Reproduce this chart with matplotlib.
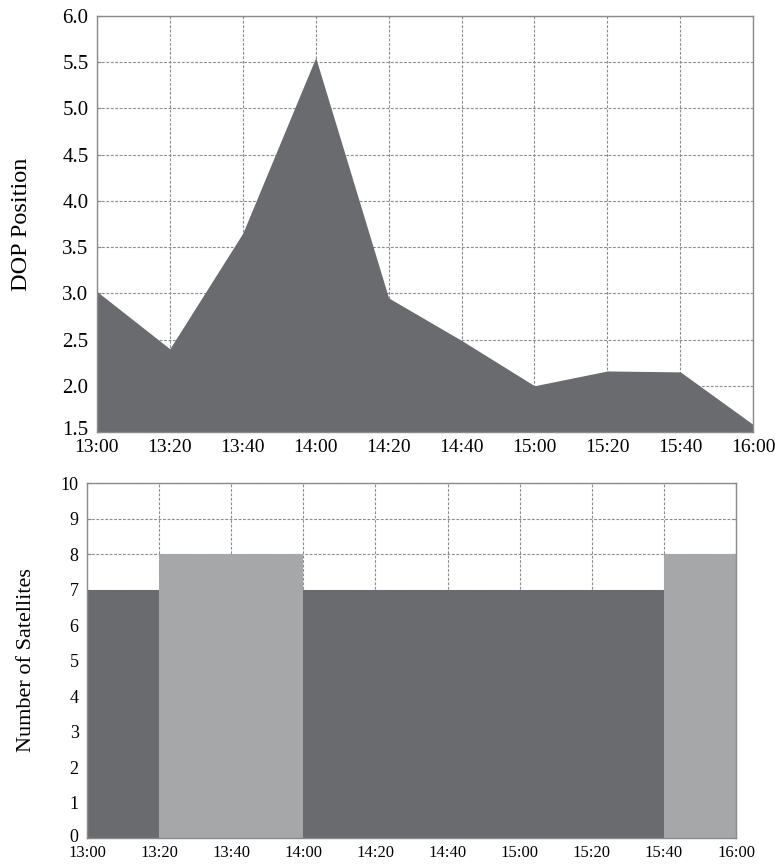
import matplotlib
matplotlib.use("Agg")
import matplotlib.pyplot as plt
import matplotlib.transforms as mtransforms
import numpy as np

# Data
minutes = [0, 20, 40, 60, 80, 100, 120, 140, 160, 180]
time_labels = ["13:00", "13:20", "13:40", "14:00", "14:20", "14:40", "15:00", "15:20", "15:40", "16:00"]
dop_position = [3.02, 2.40, 3.65, 5.55, 2.95, 2.49, 2.00, 2.16, 2.15, 1.58]

bin_starts = [0, 20, 40, 60, 80, 100, 120, 140, 160]
num_satellites = [7, 8, 8, 7, 7, 7, 7, 7, 8]

dark = "#6a6b6e"
light = "#a6a7a9"
spine_c = "#8a8a8a"
grid_c = "#8c8c8c"

plt.rcParams['font.family'] = ['Liberation Serif', 'DejaVu Serif']

fig = plt.figure(figsize=(7.75, 8.65), dpi=100)

# Top axes
ax1 = fig.add_axes([0.125, 0.5006, 0.847, 0.481])
ax1.fill_between(minutes, 1.5, dop_position, color=dark, linewidth=0, zorder=2)
ax1.set_xlim(0, 180)
ax1.set_ylim(1.5, 6.0)
ax1.set_xticks(minutes)
ax1.set_xticklabels(time_labels)
ax1.set_yticks(np.arange(1.5, 6.01, 0.5))
ax1.set_yticklabels([f"{v:.1f}" for v in np.arange(1.5, 6.01, 0.5)])
ax1.set_axisbelow(True)
ax1.grid(True, color=grid_c, linestyle=(0, (2.5, 1.5)), linewidth=0.8)
ax1.tick_params(direction='in', length=3, color=spine_c)
ax1.tick_params(axis='x', pad=5, labelsize=14)
ax1.tick_params(axis='y', pad=6, labelsize=15)
ax1.set_ylabel("DOP Position", fontsize=17.5, labelpad=22)
for s in ax1.spines.values():
    s.set_color(spine_c)
    s.set_linewidth(1.0)
# lift the lowest y label slightly, as in the reference
lbl = ax1.get_yticklabels()[0]
lbl.set_transform(lbl.get_transform() + mtransforms.ScaledTranslation(0, 4/100, fig.dpi_scale_trans))

# Bottom axes
ax2 = fig.add_axes([0.1123, 0.0312, 0.8374, 0.4104])
cols = [light if v == 8 else dark for v in num_satellites]
ax2.bar(bin_starts, num_satellites, width=20, align='edge', color=cols, linewidth=0, zorder=2)
ax2.set_xlim(0, 180)
ax2.set_ylim(0, 10)
ax2.set_xticks(minutes)
ax2.set_xticklabels(time_labels)
ax2.set_yticks(range(0, 11))
ax2.set_axisbelow(True)
ax2.grid(True, color=grid_c, linestyle=(0, (2.5, 1.5)), linewidth=0.8)
ax2.tick_params(direction='in', length=3, color=spine_c, right=True, top=False)
ax2.tick_params(axis='x', pad=5, labelsize=12)
ax2.tick_params(axis='y', pad=6, labelsize=13)
ax2.set_ylabel("Number of Satellites", fontsize=16, labelpad=18)
for s in ax2.spines.values():
    s.set_color(spine_c)
    s.set_linewidth(1.0)
lbl2 = ax2.get_yticklabels()[0]
lbl2.set_transform(lbl2.get_transform() + mtransforms.ScaledTranslation(0, 3/100, fig.dpi_scale_trans))

fig.savefig("out.png", dpi=100)
